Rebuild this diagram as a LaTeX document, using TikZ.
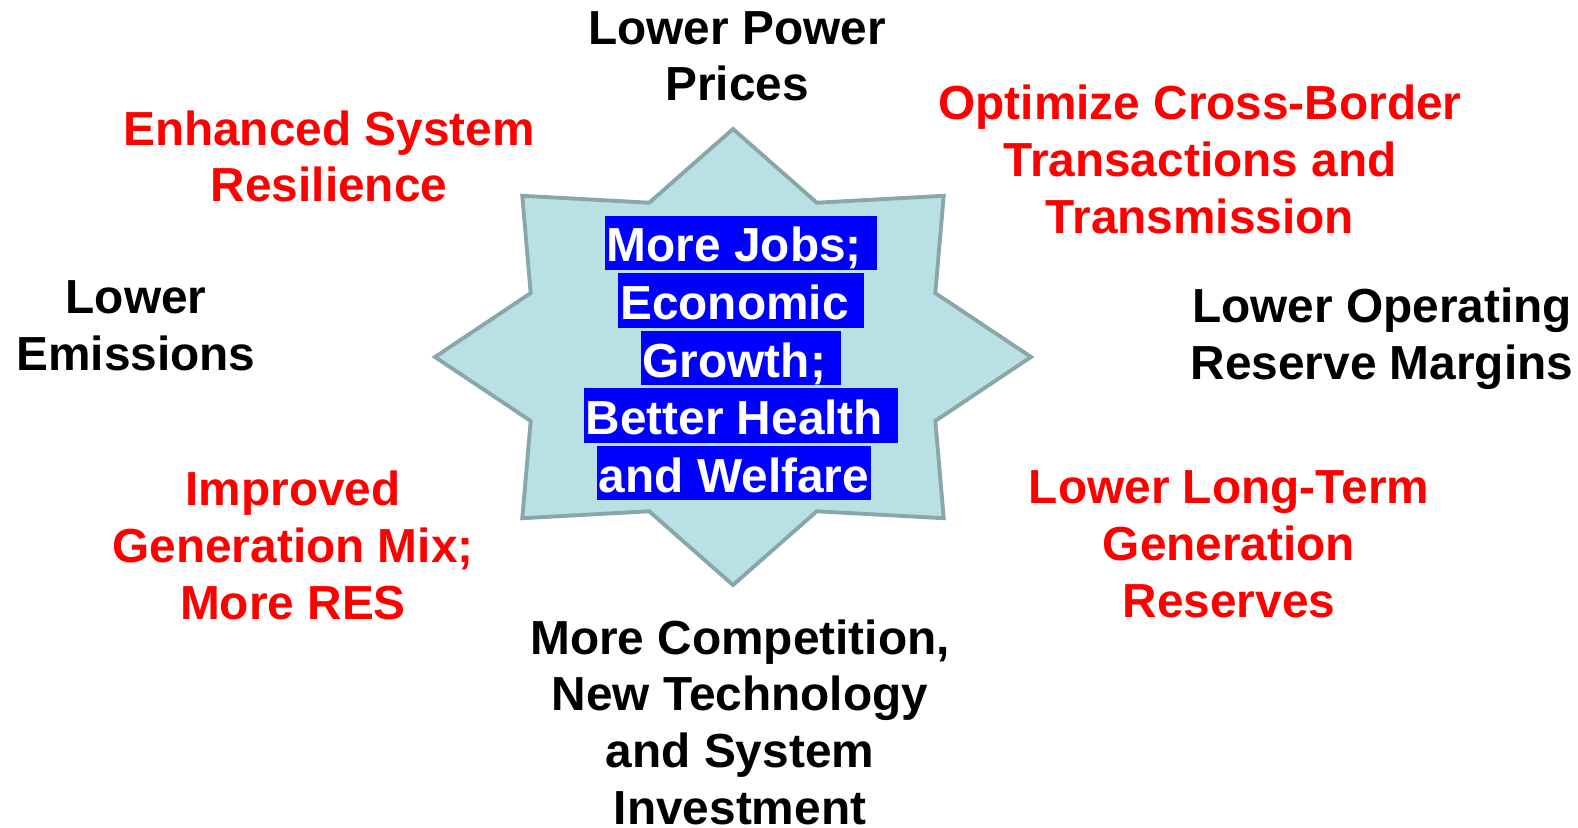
\documentclass[tikz,border=0pt]{standalone}
\usepackage{fontspec}
\setmainfont{Liberation Sans}
\usepackage{tikz}
\usetikzlibrary{positioning}
\definecolor{StarFill}{RGB}{185,224,227}
\definecolor{StarEdge}{RGB}{137,167,170}
\newcommand{\LabelFont}{\fontsize{13.6}{16.1}\selectfont\bfseries}
\tikzstyle{BlackLabel} = [font=\LabelFont, text=black, align=center,
    anchor=base, inner sep=0pt]
\tikzstyle{RedLabel} = [BlackLabel, text=red]
\tikzstyle{HubLine} = [font=\LabelFont, text=white, fill=blue, anchor=base,
    inner xsep=0.5pt, inner ysep=0pt, text height=13.1pt, text depth=2.3pt]
\tikzstyle{StarShape} = [draw=StarEdge, fill=StarFill, line width=1.1pt]

\begin{document}
\begin{tikzpicture}[x=0.1mm, y=-0.1mm]
        \useasboundingbox (0,0) rectangle (1578,828);
        \coordinate (Hub) at (733,357);
        \draw [StarShape, shift={(Hub)}] (90:298 and 228)
            \foreach \k in {0,...,6} { -- ({112.5+45*\k}:219 and 167) -- ({135+45*\k}:298 and 228) }
            -- (67.5:219 and 167) -- cycle; %eight-point star
        % label nodes sit on the baseline of their last line
        \node [HubLine] (HubJobs) at (741,262) {More Jobs;\ \null};
        \node [HubLine] (HubEconomic) at (741,319.5) {Economic\ \null};
        \node [HubLine] (HubGrowth) at (741,377) {Growth;\ \null};
        \node [HubLine] (HubHealth) at (741,434.5) {Better Health\ \null};
        \node [HubLine] (HubWelfare) at (734,492) {and Welfare};
        \node [BlackLabel] (PowerPrices) at (737,101) {Lower Power\\Prices}; %top
        \node [RedLabel] (Resilience) at (329,202) {Enhanced System\\Resilience}; %top left
        \node [RedLabel] (CrossBorder) at (1200,233) {Optimize Cross-Border\\Transactions and\\Transmission}; %top right
        \node [BlackLabel] (Emissions) at (136,370) {Lower\\Emissions}; %left
        \node [BlackLabel] (OperatingReserve) at (1382,379) {Lower Operating\\Reserve Margins}; %right
        \node [RedLabel] (GenerationMix) at (293,619) {Improved\\Generation Mix;\\More RES}; %bottom left
        \node [RedLabel] (LongTermReserves) at (1229,617) {Lower Long-Term\\Generation\\Reserves}; %bottom right
        \node [BlackLabel] (Competition) at (740,824) {More Competition,\\New Technology\\and System\\Investment}; %bottom
    \end{tikzpicture}
\end{document}
